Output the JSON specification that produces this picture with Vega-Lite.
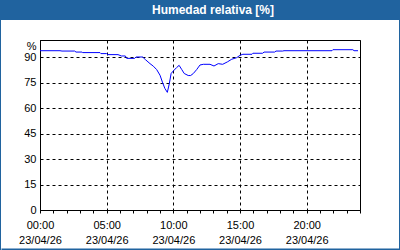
{
  "$schema": "https://vega.github.io/schema/vega-lite/v6.json",
  "padding": 0,
  "background": "white",
  "autosize": {"type": "pad"},
  "spacing": 0,
  "config": {"view": {"stroke": null}},
  "hconcat": [
    {
      "width": 1,
      "height": 250,
      "view": {"fill": "#20639f", "stroke": null},
      "data": {"values": [{"s": ""}]},
      "mark": {"type": "text", "text": ""}
    },
    {
      "bounds": "flush",
      "center": true,
      "spacing": 20,
      "vconcat": [
        {
          "width": 398,
          "height": 20,
          "view": {"fill": "#20639f", "stroke": null},
          "data": {"values": [{"titulo": "Humedad relativa [%]"}]},
          "mark": {"type": "text", "color": "white", "fontWeight": "bold", "font": "Liberation Sans", "fontSize": 12, "dx": 13},
          "encoding": {"text": {"field": "titulo"}}
        },
        {
          "width": 320,
          "height": 170,
          "view": {"fill": "white", "stroke": "black", "strokeWidth": 1},
          "data": {"values": [
            {"t": "2026-04-23T00:00", "h": 93.7},
            {"t": "2026-04-23T01:30", "h": 93.7},
            {"t": "2026-04-23T01:39", "h": 93.5},
            {"t": "2026-04-23T02:36", "h": 93.5},
            {"t": "2026-04-23T02:42", "h": 92.9},
            {"t": "2026-04-23T03:09", "h": 92.9},
            {"t": "2026-04-23T03:12", "h": 92.6},
            {"t": "2026-04-23T04:30", "h": 92.6},
            {"t": "2026-04-23T04:34", "h": 92.0},
            {"t": "2026-04-23T05:00", "h": 92.0},
            {"t": "2026-04-23T05:06", "h": 91.4},
            {"t": "2026-04-23T05:51", "h": 91.4},
            {"t": "2026-04-23T06:06", "h": 90.6},
            {"t": "2026-04-23T06:24", "h": 90.6},
            {"t": "2026-04-23T06:30", "h": 89.2},
            {"t": "2026-04-23T07:06", "h": 89.2},
            {"t": "2026-04-23T07:12", "h": 90.0},
            {"t": "2026-04-23T07:42", "h": 90.0},
            {"t": "2026-04-23T07:54", "h": 88.5},
            {"t": "2026-04-23T08:15", "h": 86.1},
            {"t": "2026-04-23T08:30", "h": 84.6},
            {"t": "2026-04-23T08:45", "h": 82.6},
            {"t": "2026-04-23T09:00", "h": 79.3},
            {"t": "2026-04-23T09:12", "h": 74.8},
            {"t": "2026-04-23T09:22", "h": 71.5},
            {"t": "2026-04-23T09:33", "h": 69.2},
            {"t": "2026-04-23T09:42", "h": 74.4},
            {"t": "2026-04-23T09:50", "h": 80.3},
            {"t": "2026-04-23T10:00", "h": 81.8},
            {"t": "2026-04-23T10:15", "h": 83.8},
            {"t": "2026-04-23T10:26", "h": 85.1},
            {"t": "2026-04-23T10:38", "h": 82.6},
            {"t": "2026-04-23T10:49", "h": 80.3},
            {"t": "2026-04-23T11:07", "h": 79.1},
            {"t": "2026-04-23T11:18", "h": 79.1},
            {"t": "2026-04-23T11:30", "h": 80.3},
            {"t": "2026-04-23T11:45", "h": 82.6},
            {"t": "2026-04-23T12:00", "h": 85.3},
            {"t": "2026-04-23T12:15", "h": 85.7},
            {"t": "2026-04-23T12:45", "h": 85.7},
            {"t": "2026-04-23T13:03", "h": 84.7},
            {"t": "2026-04-23T13:22", "h": 86.1},
            {"t": "2026-04-23T13:42", "h": 85.7},
            {"t": "2026-04-23T14:03", "h": 87.1},
            {"t": "2026-04-23T14:23", "h": 88.7},
            {"t": "2026-04-23T14:45", "h": 89.6},
            {"t": "2026-04-23T15:00", "h": 91.0},
            {"t": "2026-04-23T15:13", "h": 91.6},
            {"t": "2026-04-23T15:54", "h": 91.6},
            {"t": "2026-04-23T15:58", "h": 92.2},
            {"t": "2026-04-23T16:42", "h": 92.2},
            {"t": "2026-04-23T16:48", "h": 92.9},
            {"t": "2026-04-23T17:36", "h": 92.9},
            {"t": "2026-04-23T17:42", "h": 93.5},
            {"t": "2026-04-23T18:12", "h": 93.5},
            {"t": "2026-04-23T18:18", "h": 93.7},
            {"t": "2026-04-23T21:54", "h": 93.7},
            {"t": "2026-04-23T21:58", "h": 94.3},
            {"t": "2026-04-23T23:28", "h": 94.3},
            {"t": "2026-04-23T23:33", "h": 93.7},
            {"t": "2026-04-23T23:51", "h": 93.7}
          ]},
          "mark": {"type": "line", "color": "#0000ff", "strokeWidth": 1},
          "encoding": {
            "x": {
              "field": "t",
              "type": "temporal",
              "scale": {"domain": [
                {"year": 2026, "month": 4, "date": 23, "hours": 0},
                {"year": 2026, "month": 4, "date": 24, "hours": 0}
              ]},
              "axis": {
                "title": null,
                "values": [
                  {"year": 2026, "month": 4, "date": 23, "hours": 0},
                  {"year": 2026, "month": 4, "date": 23, "hours": 1},
                  {"year": 2026, "month": 4, "date": 23, "hours": 2},
                  {"year": 2026, "month": 4, "date": 23, "hours": 3},
                  {"year": 2026, "month": 4, "date": 23, "hours": 4},
                  {"year": 2026, "month": 4, "date": 23, "hours": 5},
                  {"year": 2026, "month": 4, "date": 23, "hours": 6},
                  {"year": 2026, "month": 4, "date": 23, "hours": 7},
                  {"year": 2026, "month": 4, "date": 23, "hours": 8},
                  {"year": 2026, "month": 4, "date": 23, "hours": 9},
                  {"year": 2026, "month": 4, "date": 23, "hours": 10},
                  {"year": 2026, "month": 4, "date": 23, "hours": 11},
                  {"year": 2026, "month": 4, "date": 23, "hours": 12},
                  {"year": 2026, "month": 4, "date": 23, "hours": 13},
                  {"year": 2026, "month": 4, "date": 23, "hours": 14},
                  {"year": 2026, "month": 4, "date": 23, "hours": 15},
                  {"year": 2026, "month": 4, "date": 23, "hours": 16},
                  {"year": 2026, "month": 4, "date": 23, "hours": 17},
                  {"year": 2026, "month": 4, "date": 23, "hours": 18},
                  {"year": 2026, "month": 4, "date": 23, "hours": 19},
                  {"year": 2026, "month": 4, "date": 23, "hours": 20},
                  {"year": 2026, "month": 4, "date": 23, "hours": 21},
                  {"year": 2026, "month": 4, "date": 23, "hours": 22},
                  {"year": 2026, "month": 4, "date": 23, "hours": 23},
                  {"year": 2026, "month": 4, "date": 24, "hours": 0}
                ],
                "labelExpr": "hours(datum.value) % 5 == 0 && date(datum.value) == 23 ? [timeFormat(datum.value, '%H:%M'), timeFormat(datum.value, '%d/%m/%y')] : ''",
                "labelFont": "Liberation Sans",
                "labelFontSize": 11,
                "labelColor": "black",
                "labelLineHeight": 15,
                "labelFlush": false,
                "labelOverlap": false,
                "labelBound": false,
                "labelPadding": 6,
                "tickSize": 3,
                "tickColor": "black",
                "domainColor": "black",
                "grid": true,
                "gridColor": "black",
                "gridDash": [3, 3],
                "gridOpacity": {"condition": {"test": "hours(datum.value) % 5 == 0 && date(datum.value) == 23", "value": 1}, "value": 0}
              }
            },
            "y": {
              "field": "h",
              "type": "quantitative",
              "scale": {"domain": [0, 100]},
              "axis": {
                "title": null,
                "values": [0, 15, 30, 45, 60, 75, 90, 100],
                "labelExpr": "datum.value == 100 ? '%' : datum.label",
                "labelBaseline": {"condition": {"test": "datum.value == 100", "value": "top"}, "value": "middle"},
                "labelOverlap": false,
                "labelBound": false,
                "labelFont": "Liberation Sans",
                "labelFontSize": 11,
                "labelColor": "black",
                "labelPadding": 4,
                "tickSize": 0,
                "domainColor": "black",
                "grid": true,
                "gridColor": "black",
                "gridDash": [3, 3]
              }
            }
          }
        },
        {
          "width": 398,
          "height": 19,
          "view": {"fill": null, "stroke": null},
          "data": {"values": [{"v": 0}]},
          "mark": {"type": "text", "text": ""},
          "encoding": {
            "x": {
              "field": "v",
              "type": "quantitative",
              "axis": {
                "title": null,
                "ticks": false,
                "labels": false,
                "grid": false,
                "domainColor": "#20639f",
                "domainWidth": 2
              }
            }
          }
        }
      ]
    },
    {
      "width": 1,
      "height": 250,
      "view": {"fill": "#20639f", "stroke": null},
      "data": {"values": [{"s": ""}]},
      "mark": {"type": "text", "text": ""}
    }
  ]
}
